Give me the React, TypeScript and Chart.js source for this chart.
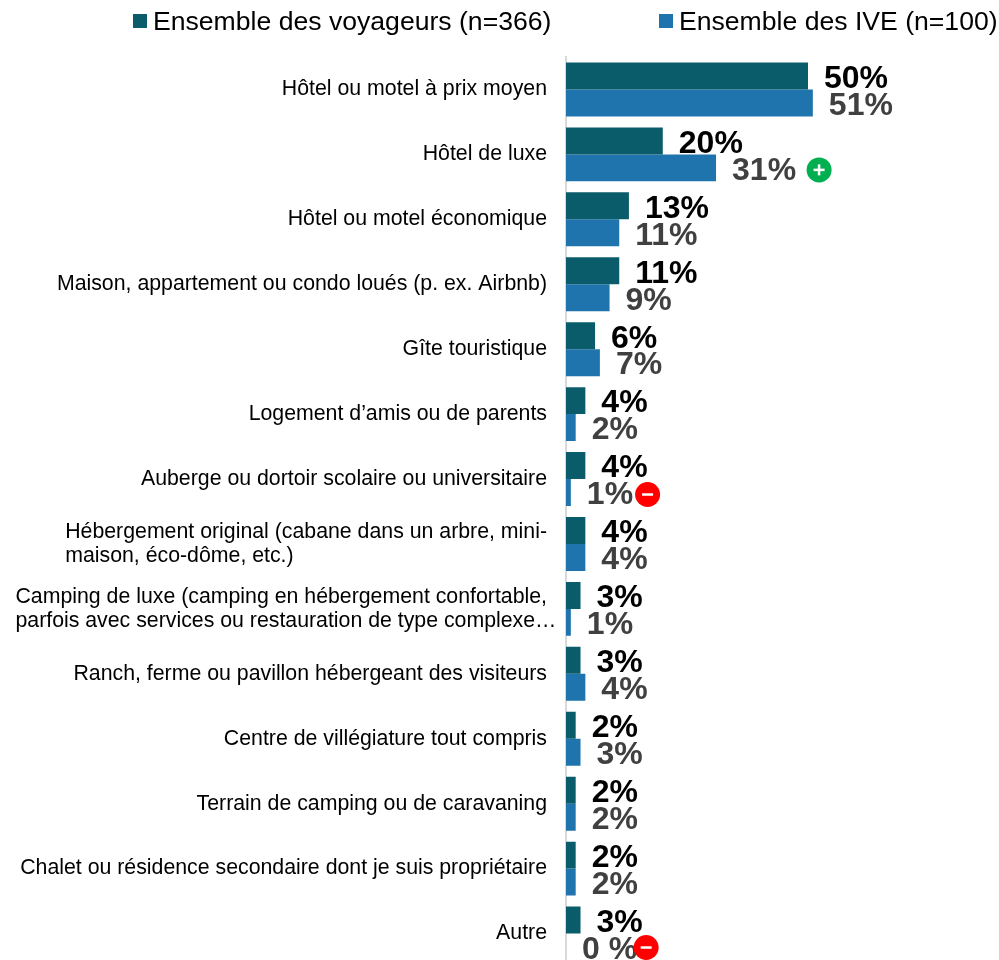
import React, { useEffect, useRef } from "react";
import { Chart, registerables } from "chart.js";

Chart.register(...registerables);

const categories: (string | string[])[] = [
  "Hôtel ou motel à prix moyen",
  "Hôtel de luxe",
  "Hôtel ou motel économique",
  "Maison, appartement ou condo loués (p. ex. Airbnb)",
  "Gîte touristique",
  "Logement d’amis ou de parents",
  "Auberge ou dortoir scolaire ou universitaire",
  ["Hébergement original (cabane dans un arbre, mini-", "maison, éco-dôme, etc.)"],
  ["Camping de luxe (camping en hébergement confortable,", "parfois avec services ou restauration de type complexe…"],
  "Ranch, ferme ou pavillon hébergeant des visiteurs",
  "Centre de villégiature tout compris",
  "Terrain de camping ou de caravaning",
  "Chalet ou résidence secondaire dont je suis propriétaire",
  "Autre",
];
const voyageurs = [50, 20, 13, 11, 6, 4, 4, 4, 3, 3, 2, 2, 2, 3];
const ive = [51, 31, 11, 9, 7, 2, 1, 4, 1, 4, 3, 2, 2, 0];
const iveLabels = ["51%", "31%", "11%", "9%", "7%", "2%", "1%", "4%", "1%", "4%", "3%", "2%", "2%", "0 %"];
const iveSignals = ["", "+", "", "", "", "", "-", "", "", "", "", "", "", "-"];
const seriesNames = ["Ensemble des voyageurs (n=366)", "Ensemble des IVE (n=100)"];

const DARK = "#0A5C6B";
const BLUE = "#2074AD";
const FONT = '"Liberation Sans", Arial, sans-serif';
const TICK_SIZE = 21.3;

const legendX = [133, 659];

const overlay = {
  id: "overlay",
  // multi-line category labels are left-aligned as a block in the reference
  beforeDraw(chart: any) {
    const scale = chart.scales.y;
    const ctx = chart.ctx;
    ctx.save();
    ctx.font = `${TICK_SIZE}px ${FONT}`;
    scale.getLabelItems(chart.chartArea).forEach((item: any) => {
      const o = item.options;
      if (Array.isArray(item.label)) {
        o.translation = [o.translation[0] - ctx.measureText(item.label[0]).width, o.translation[1]];
        o.textAlign = "left";
      }
    });
    ctx.restore();
  },
  afterDatasetsDraw(chart: any) {
    const ctx = chart.ctx;
    ctx.save();
    ctx.textBaseline = "middle";
    ctx.textAlign = "left";
    // legend
    chart.data.datasets.forEach((ds: any, i: number) => {
      ctx.fillStyle = ds.backgroundColor;
      ctx.fillRect(legendX[i], 14, 14, 14);
      ctx.fillStyle = "#000000";
      ctx.font = `26.6px ${FONT}`;
      ctx.fillText(ds.label, legendX[i] + 20, 23);
    });
    // value labels
    ctx.font = `bold 32px ${FONT}`;
    chart.data.datasets.forEach((ds: any, di: number) => {
      const meta = chart.getDatasetMeta(di);
      meta.data.forEach((bar: any, i: number) => {
        const text = di === 0 ? `${ds.data[i]}%` : iveLabels[i];
        ctx.fillStyle = di === 0 ? "#000000" : "#404040";
        ctx.fillText(text, bar.x + 16, bar.y + 3);
      });
    });
    // significance badges, drawn after every label because they overlap the text
    const meta = chart.getDatasetMeta(1);
    meta.data.forEach((bar: any, i: number) => {
      if (!iveSignals[i]) return;
      const w = ctx.measureText(iveLabels[i]).width;
      const last = i === meta.data.length - 1;
      const gap = iveSignals[i] === "+" ? 23 : last ? 9 : 14.5;
      const cx = bar.x + 16 + w + gap;
      const cy = bar.y + (last ? 0.5 : 2);
      ctx.beginPath();
      ctx.arc(cx, cy, 12.5, 0, Math.PI * 2);
      ctx.fillStyle = iveSignals[i] === "+" ? "#00B050" : "#FF0000";
      ctx.fill();
      ctx.fillStyle = "#FFFFFF";
      ctx.fillRect(cx - 5.5, cy - 1.25, 11, 2.5);
      if (iveSignals[i] === "+") ctx.fillRect(cx - 1.25, cy - 5.5, 2.5, 11);
    });
    ctx.restore();
  },
};

export default function App() {
  const ref = useRef<HTMLCanvasElement>(null);
  useEffect(() => {
    const chart = new Chart(ref.current!, {
      type: "bar",
      data: {
        labels: categories as any,
        datasets: [
          { label: seriesNames[0], data: voyageurs, backgroundColor: DARK },
          { label: seriesNames[1], data: ive, backgroundColor: BLUE },
        ],
      },
      options: {
        indexAxis: "y",
        responsive: false,
        animation: false,
        layout: { padding: { top: 57, bottom: 4, left: 0, right: 2.24 } },
        datasets: { bar: { categoryPercentage: 54 / 65, barPercentage: 1 } },
        plugins: { legend: { display: false }, tooltip: { enabled: false } },
        scales: {
          x: { display: false, min: 0, max: 89 },
          y: {
            afterFit: (s: any) => {
              s.width = 566;
              s.paddingTop = 0;
              s.paddingBottom = 0;
            },
            grid: { display: false, drawTicks: false },
            border: { display: true, color: "#D9D9D9", width: 2 },
            ticks: {
              color: "#000000",
              padding: 19,
              autoSkip: false,
              font: { family: FONT, size: TICK_SIZE, lineHeight: 1.15 },
            },
          },
        },
      } as any,
      plugins: [overlay],
    });
    return () => chart.destroy();
  }, []);
  return (
    <div style={{ position: "absolute", left: 0, top: 0, width: 999, height: 960, overflow: "hidden", background: "#fff" }}>
      <canvas ref={ref} width={999} height={970} />
    </div>
  );
}
